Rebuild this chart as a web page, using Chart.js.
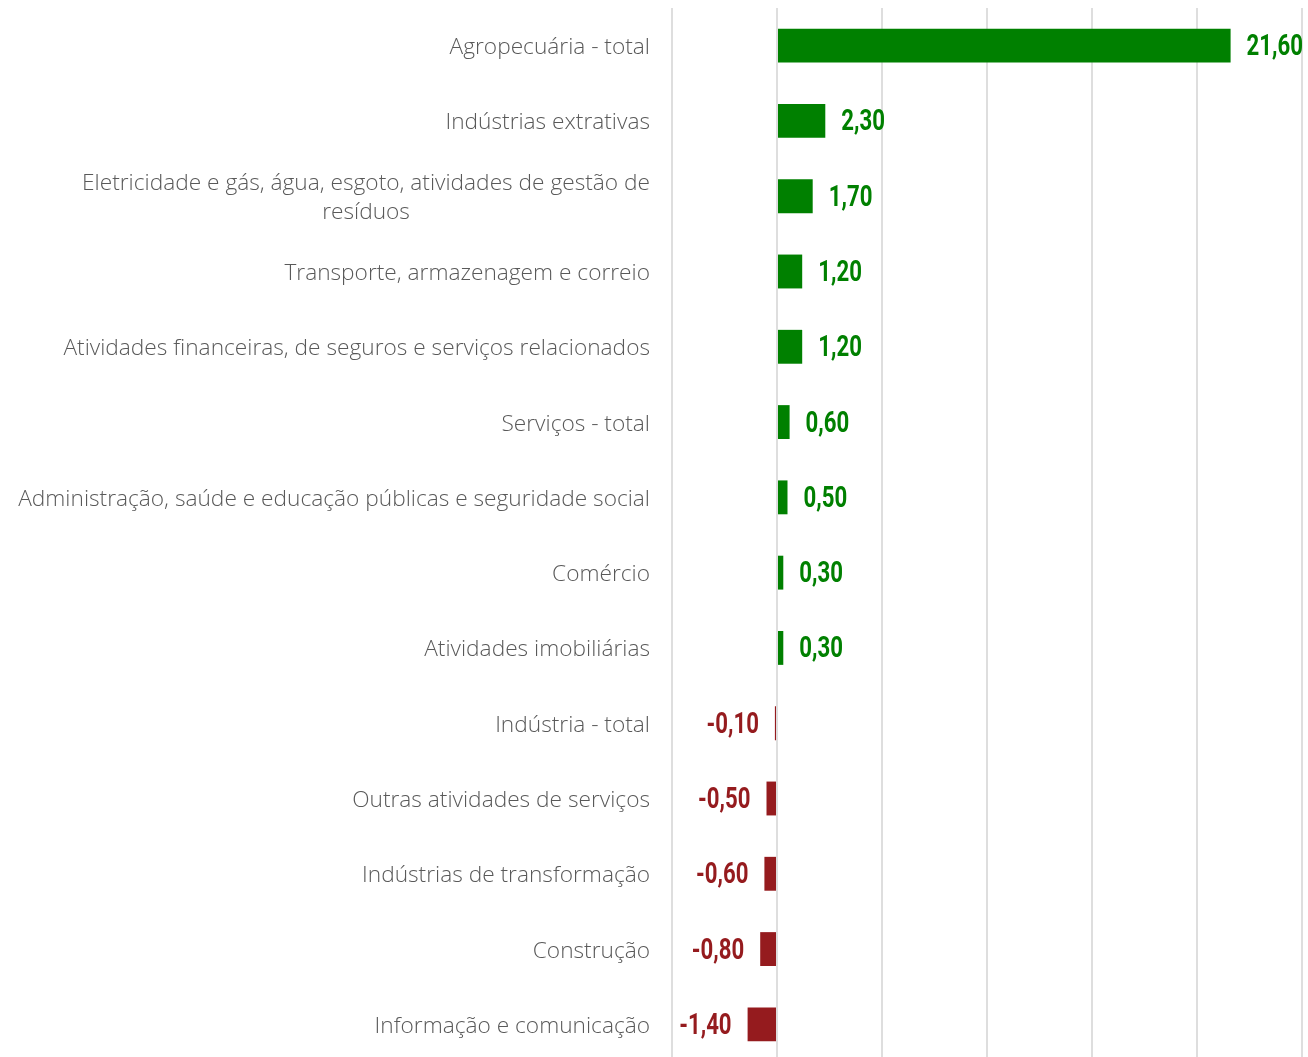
<!DOCTYPE html>
<html>
<head>
<meta charset="utf-8">
<script src="https://cdn.jsdelivr.net/npm/chart.js@4/dist/chart.umd.min.js"></script>
<style>
  html, body { margin: 0; padding: 0; background: #fff; overflow: hidden; }
  /* the plot runs a few pixels past the bottom edge of the picture */
  .c-chart { width: 1308px; height: 1062px; }
</style>
</head>
<body>
<div class="c-chart"><canvas class="js-chart"></canvas></div>
<script>
// categories (multi-line labels as arrays)
const categories = [
  "Agropecuária - total",
  "Indústrias extrativas",
  ["Eletricidade e gás, água, esgoto, atividades de gestão de", "resíduos"],
  "Transporte, armazenagem e correio",
  "Atividades financeiras, de seguros e serviços relacionados",
  "Serviços - total",
  "Administração, saúde e educação públicas e seguridade social",
  "Comércio",
  "Atividades imobiliárias",
  "Indústria - total",
  "Outras atividades de serviços",
  "Indústrias de transformação",
  "Construção",
  "Informação e comunicação"
];

const values = [21.6, 2.3, 1.7, 1.2, 1.2, 0.6, 0.5, 0.3, 0.3, -0.1, -0.5, -0.6, -0.8, -1.4];

const xMin = -5;
const xMax = 25;
const xStep = 5;

const green = "#008000";
const red = "#951B1E";
const labelFont = "300 22.7px 'Open Sans', sans-serif";
const valueFont = "bold 30px Roboto, sans-serif";
const valueSquash = 0.74;   // the original value font is a condensed one

const fmt = function (v) {
  return v.toFixed(2).replace(".", ",");
};

// draws the category names, right aligned, extra lines centred under the first
const categoryLabels = {
  id: "categoryLabels",
  afterDraw(chart) {
    const ctx = chart.ctx;
    const yScale = chart.scales.y;
    const right = chart.chartArea.left - 22;
    ctx.save();
    ctx.font = labelFont;
    ctx.fillStyle = "#595959";
    ctx.textBaseline = "middle";
    categories.forEach((label, i) => {
      const y = yScale.getPixelForTick(i) + 2;
      const lines = Array.isArray(label) ? label : [label];
      const lh = 29;
      const w0 = ctx.measureText(lines[0]).width;
      lines.forEach((line, j) => {
        const ly = y + (j - (lines.length - 1) / 2) * lh;
        if (j === 0) {
          ctx.textAlign = "right";
          ctx.fillText(line, right, ly);
        } else {
          ctx.textAlign = "center";
          ctx.fillText(line, right - w0 / 2, ly);
        }
      });
    });
    ctx.restore();
  }
};

// value labels next to the bars
const valueLabels = {
  id: "valueLabels",
  afterDatasetsDraw(chart) {
    const ctx = chart.ctx;
    const meta = chart.getDatasetMeta(0);
    ctx.save();
    ctx.font = valueFont;
    ctx.textBaseline = "middle";
    meta.data.forEach((bar, i) => {
      const v = values[i];
      ctx.save();
      if (v >= 0) {
        ctx.fillStyle = green;
        ctx.textAlign = "left";
        ctx.translate(bar.x + 16, bar.y + 2);
      } else {
        ctx.fillStyle = red;
        ctx.textAlign = "right";
        ctx.translate(bar.x - 16, bar.y + 2);
      }
      ctx.scale(valueSquash, 1);
      ctx.fillText(fmt(v), 0, 0);
      ctx.restore();
    });
    ctx.restore();
  }
};

const ctx = document.querySelector(".js-chart").getContext("2d");
const chart = new Chart(ctx, {
  type: "bar",
  data: {
    labels: categories,
    datasets: [{
      data: values,
      backgroundColor: values.map(v => v >= 0 ? green : red),
      borderWidth: 0,
      barPercentage: 0.9,
      categoryPercentage: 0.5
    }]
  },
  options: {
    indexAxis: "y",
    responsive: true,
    maintainAspectRatio: false,
    animation: false,
    layout: { padding: { top: 8, right: 6, bottom: 0, left: 0 } },
    plugins: {
      legend: { display: false },
      tooltip: { enabled: false }
    },
    scales: {
      x: {
        min: xMin,
        max: xMax,
        ticks: { stepSize: xStep, display: false },
        grid: { color: "#dedede", lineWidth: 2, drawTicks: false },
        border: { display: false }
      },
      y: {
        ticks: { display: false },
        grid: { display: false },
        border: { display: false },
        afterFit(scale) { scale.width = 672; }
      }
    }
  },
  plugins: [categoryLabels, valueLabels]
});
</script>
</body>
</html>
